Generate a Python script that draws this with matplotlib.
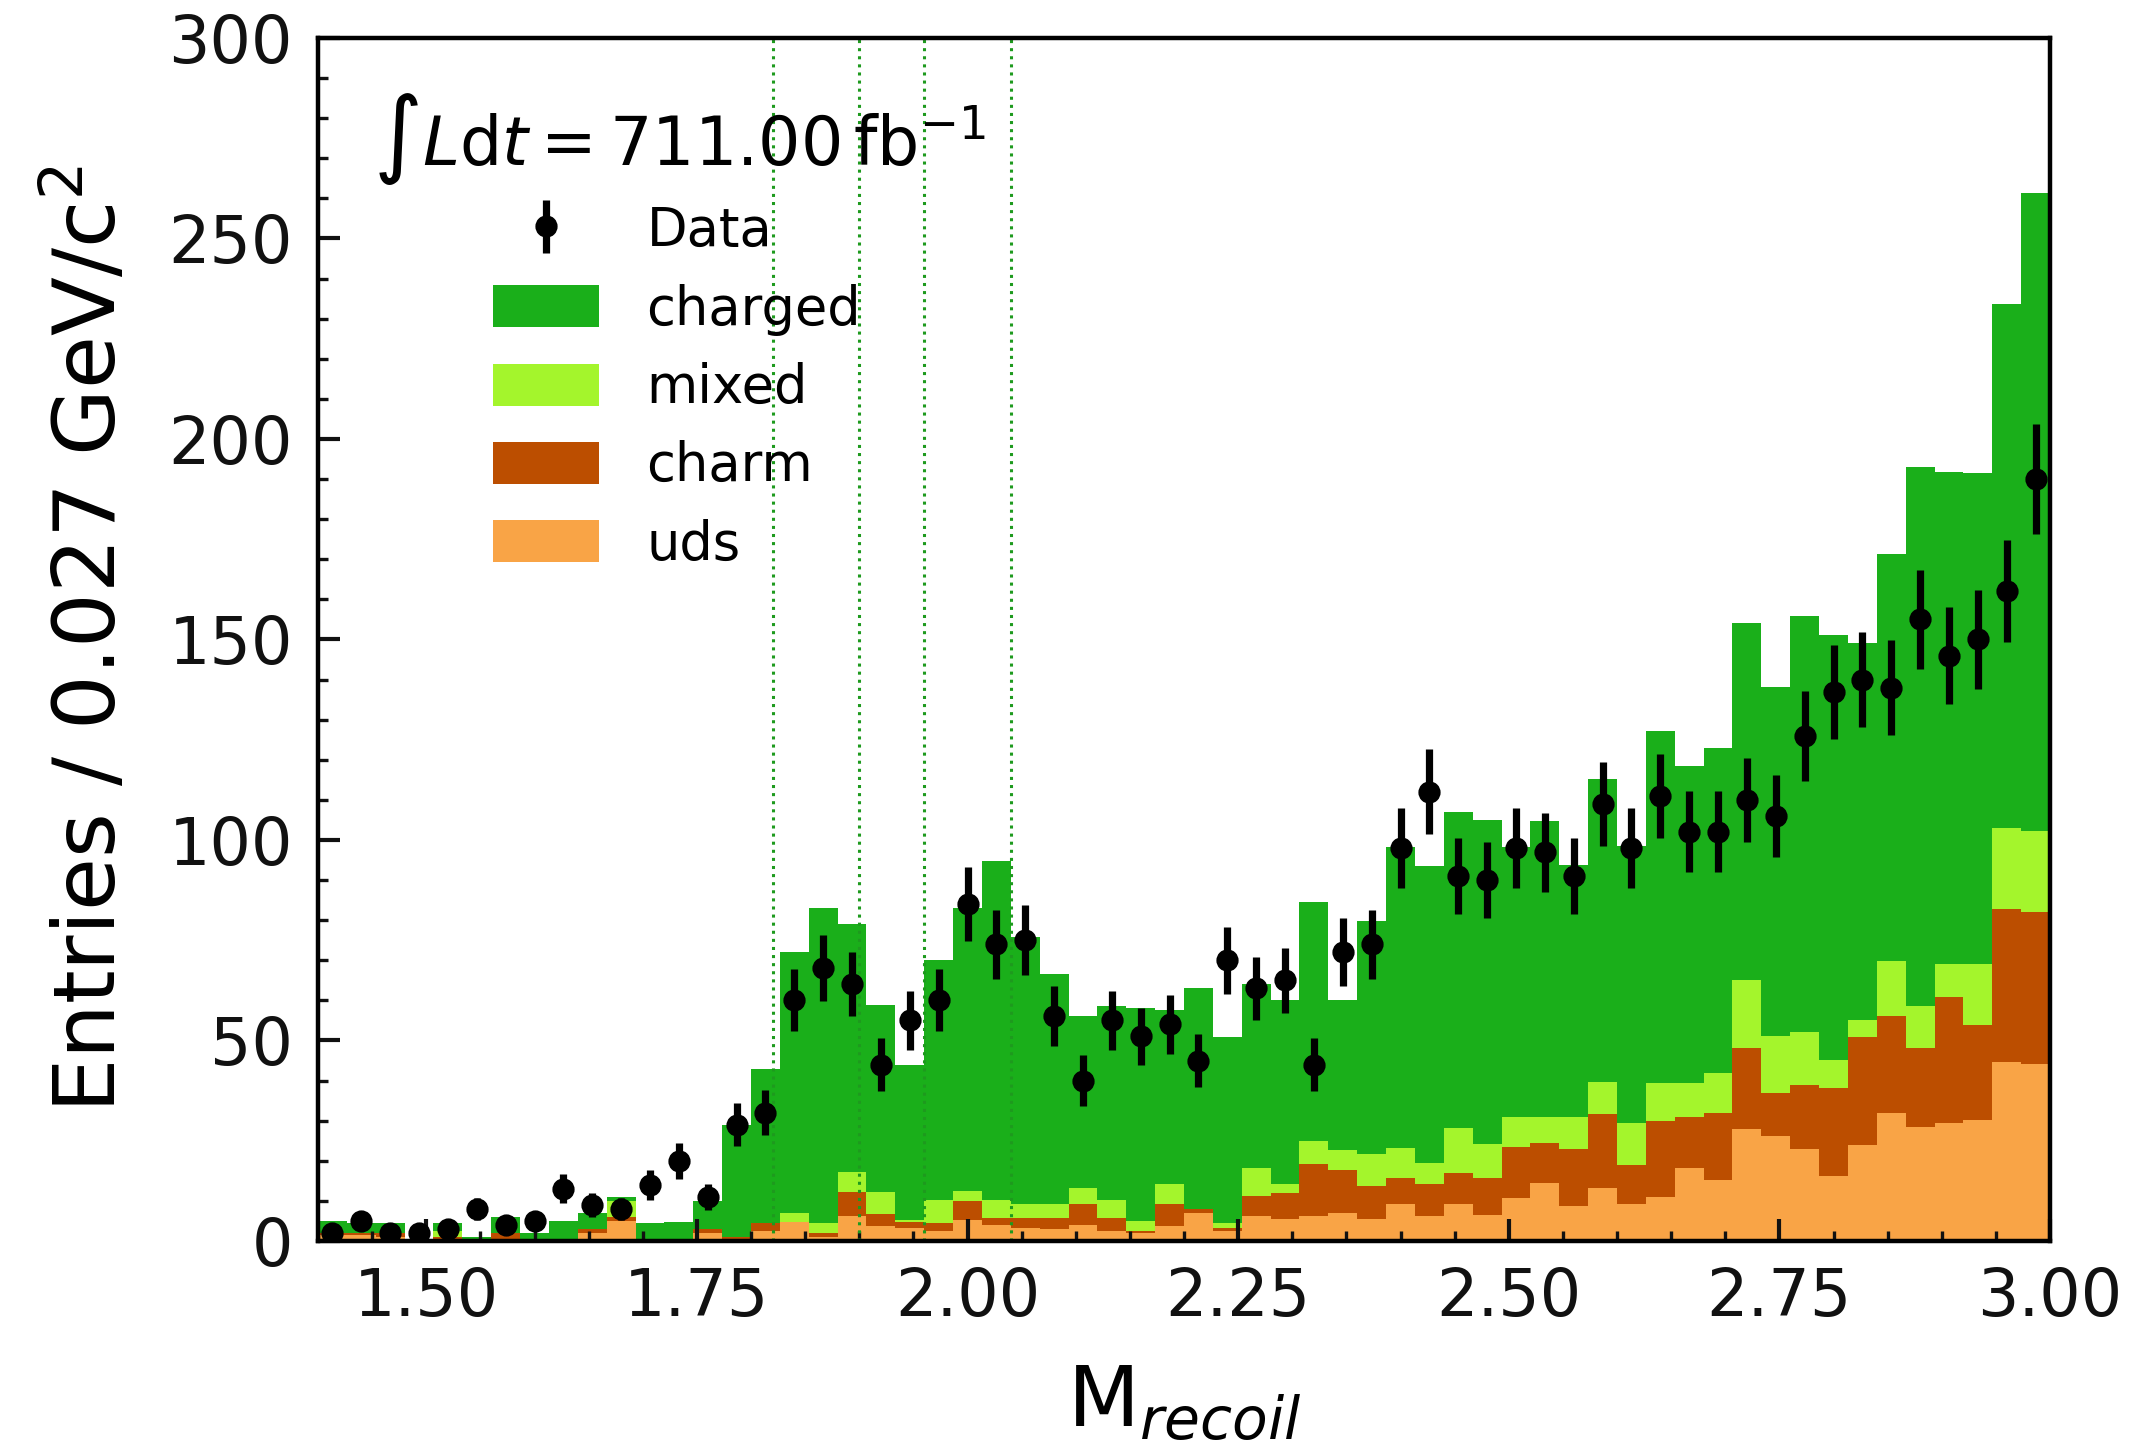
import numpy as np
import matplotlib
matplotlib.use("Agg")
import matplotlib.pyplot as plt
from matplotlib.ticker import MultipleLocator, FormatStrFormatter

# Binning of the recoil mass (60 bins of ~0.027 GeV/c^2)
x_lo, x_hi, n_bins = 1.40, 3.00, 60

# Observed counts per bin
data = [2, 5, 2, 2, 3, 8, 4, 5, 13, 9,
        8, 14, 20, 11, 29, 32, 60, 68, 64, 44,
        55, 60, 84, 74, 75, 56, 40, 55, 51, 54,
        45, 70, 63, 65, 44, 72, 74, 98, 112, 91,
        90, 98, 97, 91, 109, 98, 111, 102, 102, 110,
        106, 126, 137, 140, 138, 155, 146, 150, 162, 190]

# Simulated background components (stacked from bottom: uds, charm, mixed, charged)
uds = [1.5, 1.5, 1.0, 0.0, 0.5, 0.0, 0.3, 0.3, 0.0, 2.0,
       5.0, 0.0, 0.0, 2.0, 0.5, 2.4, 4.7, 0.9, 6.2, 3.7,
       3.3, 2.4, 5.3, 4.1, 3.3, 2.9, 4.1, 2.4, 2.0, 3.7,
       7.0, 2.4, 6.2, 5.4, 6.2, 7.0, 5.4, 9.1, 6.2, 9.1,
       6.6, 10.6, 14.5, 8.6, 13.1, 9.2, 11.0, 18.1, 15.2, 27.9,
       26.2, 22.9, 16.1, 23.9, 31.8, 28.3, 29.3, 30.2, 44.7, 44.1]
charm = [0.5, 0.5, 1.0, 0.0, 0.5, 0.0, 1.7, 0.2, 0.0, 1.0,
         1.0, 0.0, 0.0, 1.0, 0.5, 2.1, 0.0, 1.2, 6.0, 3.1,
         1.4, 2.1, 4.6, 1.7, 2.5, 2.9, 5.0, 3.4, 0.5, 5.4,
         0.9, 0.9, 5.0, 6.6, 12.9, 10.8, 8.3, 6.7, 7.9, 7.9,
         9.2, 12.9, 10.0, 14.4, 18.5, 9.8, 19.0, 12.7, 16.6, 20.2,
         10.8, 16.0, 22.0, 26.9, 24.3, 19.7, 31.6, 23.7, 38.2, 38.0]
mixed = [0.0, 0.0, 0.0, 0.0, 1.5, 0.0, 0.0, 0.0, 0.0, 0.0,
         4.0, 0.0, 0.0, 0.0, 0.0, 0.0, 2.3, 2.3, 5.0, 5.4,
         0.5, 5.8, 2.5, 4.5, 3.3, 3.3, 4.2, 4.5, 2.4, 5.0,
         0.0, 1.2, 7.0, 2.1, 5.8, 5.0, 7.9, 7.4, 5.4, 11.2,
         8.3, 7.5, 6.5, 8.0, 8.1, 10.4, 9.3, 8.5, 10.0, 17.0,
         14.0, 13.1, 7.0, 4.4, 13.8, 10.7, 8.2, 15.2, 20.0, 20.2]
charged = [3.0, 2.5, 2.5, 0.5, 2.0, 1.0, 4.0, 1.5, 5.0, 4.0,
           1.0, 4.5, 4.7, 7.0, 28.0, 38.3, 65.0, 78.6, 61.8, 46.6,
           38.8, 59.7, 70.6, 84.5, 66.6, 57.4, 42.8, 48.3, 53.3, 43.5,
           55.2, 46.4, 45.9, 45.9, 59.6, 37.2, 58.2, 75.0, 74.1, 78.8,
           80.9, 67.3, 73.8, 62.8, 75.4, 69.1, 88.0, 79.2, 81.1, 89.1,
           87.1, 103.9, 106.0, 94.0, 101.3, 134.2, 122.7, 122.5, 130.7, 159.1]

components = [("uds", uds, "#F9A446"),
              ("charm", charm, "#BC4E00"),
              ("mixed", mixed, "#A4F52C"),
              ("charged", charged, "#1AAF1A")]

# Signal-window boundaries
window_edges = [1.82, 1.90, 1.96, 2.04]

edges = np.linspace(x_lo, x_hi, n_bins + 1)
centers = 0.5 * (edges[:-1] + edges[1:])

fig = plt.figure(figsize=(10.665, 7.225), dpi=200)
ax = fig.add_axes([0.1491, 0.1412, 0.8120, 0.8325])

base = np.zeros(n_bins)
handles = {}
for name, vals, col in components:
    top = base + np.asarray(vals)
    h = ax.stairs(top, edges, baseline=base, fill=True, color=col,
                  linewidth=0, label=name, zorder=1)
    handles[name] = h
    base = top

for xv in window_edges:
    ax.axvline(xv, color="#1E9A1E", ls=":", lw=1.1, zorder=2)

counts = np.asarray(data, dtype=float)
eb = ax.errorbar(centers, counts, yerr=np.sqrt(counts), fmt="o", color="black",
                 ms=7, elinewidth=2.6, capsize=0, label="Data", zorder=4)

ax.set_xlim(x_lo, x_hi)
ax.set_ylim(0, 300)
ax.xaxis.set_major_locator(MultipleLocator(0.25))
ax.xaxis.set_minor_locator(MultipleLocator(0.05))
ax.xaxis.set_major_formatter(FormatStrFormatter("%.2f"))
ax.yaxis.set_major_locator(MultipleLocator(50))
ax.yaxis.set_minor_locator(MultipleLocator(10))
ax.tick_params(which="both", direction="in", top=False, right=False,
               labelsize=23.5, pad=9, colors="#111111")
ax.tick_params(which="major", length=8, width=1.5)
ax.tick_params(which="minor", length=3.5, width=1.2)
for sp in ax.spines.values():
    sp.set_linewidth(1.6)

ax.set_xlabel(r"M$_{recoil}$", fontsize=30, labelpad=12)
ax.set_ylabel(r"Entries / 0.027 GeV/c$^2$", fontsize=31, labelpad=12)

ax.text(0.032, 0.916, r"$\int L\mathrm{d}t = 711.00\,\mathrm{fb}^{-1}$",
        transform=ax.transAxes, fontsize=24, va="center", ha="left")

leg = ax.legend([eb, handles["charged"], handles["mixed"], handles["charm"], handles["uds"]],
                ["Data", "charged", "mixed", "charm", "uds"],
                loc="upper left", bbox_to_anchor=(0.086, 0.883), frameon=False,
                fontsize=19, handlelength=2.0, handleheight=0.85,
                handletextpad=0.9, labelspacing=0.5, borderpad=0.0)

fig.savefig("out.png", dpi=200)
